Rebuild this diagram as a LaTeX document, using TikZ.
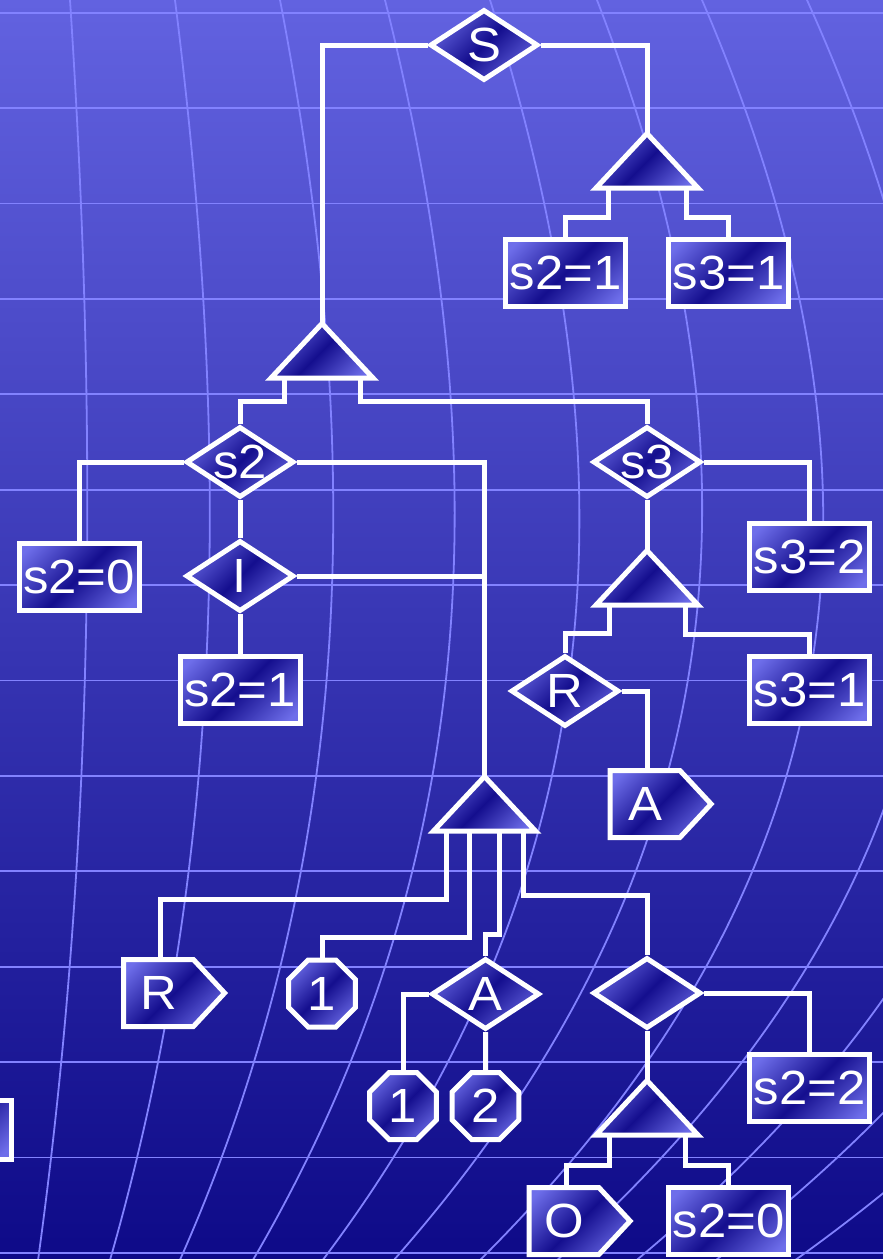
\documentclass[tikz,border=0pt]{standalone}
\usepackage{fontspec}
\setmainfont{Liberation Sans}[FakeStretch=1.06]
\usetikzlibrary{shapes.geometric,shapes.symbols,calc}
\definecolor{bgTop}{RGB}{98,98,224}
\definecolor{bgBot}{RGB}{14,10,136}
\definecolor{gridc}{RGB}{130,130,255}
\definecolor{nL}{RGB}{110,110,234}
\definecolor{nD}{RGB}{20,14,142}
\pgfdeclareverticalshading{nshade}{100bp}{color(0bp)=(nL); color(20bp)=(nL); color(50bp)=(nD); color(80bp)=(nL); color(100bp)=(nL)}
\pgfdeclarelayer{gridlayer}
\pgfdeclarelayer{connlayer}
\pgfsetlayers{gridlayer,connlayer,main}
\tikzset{
  shp/.style={draw=white, line width=5pt, shade, shading=nshade, shading angle=45, text=white, inner sep=0pt, font=\fontsize{48}{52}\selectfont, line join=miter},
  boxn/.style={shp, rectangle, minimum width=120, minimum height=67},
  dian/.style={shp, diamond, aspect=1.5, inner sep=-3pt, minimum width=108, minimum height=71},
  sign/.style={shp, signal, signal to=east, signal pointer angle=94, minimum width=101, minimum height=67},
  octn/.style={shp, regular polygon, regular polygon sides=8, minimum size=72.5},
  conn/.style={draw=white, line width=5pt, line join=miter},
  gridl/.style={draw=gridc, line width=1.8pt},
}
\newcommand{\tri}[3]{%
  \path[shp] (#2,#3+3.5) -- (#2+51,#3+58) -- (#2-51,#3+58) -- cycle;
  \coordinate (#1-a) at (#2,#3+3.5);
  \coordinate (#1-b) at (#2,#3+58);
}
\begin{document}
\begin{tikzpicture}[x=1pt,y=-1pt]
\useasboundingbox (0,0) rectangle (883,1259);
\begin{pgfonlayer}{gridlayer}
\shade[top color=bgTop, bottom color=bgBot] (0,0) rectangle (883,1259);
\foreach \k in {0,...,13} \draw[gridl] (-5,12.7+95.4*\k) -- (890,12.7+95.4*\k);
\foreach \a/\b/\c/\d in {70/87/77/39, 175/209/190/112, 280/332/303/183, 385/453/415/257, 490/577/530/328, 597/700/640/400, 702/820/757/487, 807/932/863/565, 912/1040/965/645, 1017/1150/1070/725, 1122/1260/1175/805}
  \draw[gridl] plot[domain=-0.015:1.275, samples=70, variable=\t, smooth]
   ({\a*(\t-0.44)*(\t-0.86)*(\t-1.253)/(-0.474134) + \b*\t*(\t-0.86)*(\t-1.253)/0.150242 + \c*\t*(\t-0.44)*(\t-1.253)/(-0.141952) + \d*\t*(\t-0.44)*(\t-0.86)/0.400343}, {1000*\t});
\end{pgfonlayer}

% triangles
\tri{T1}{322}{320}
\tri{T2}{647}{130}
\tri{T3}{647}{547}
\tri{T4}{484.5}{773}
\tri{T5}{647}{1077}

% nodes
\node[dian] (S) at (484,45) {S};
\node[boxn] (b1) at (565.5,273) {s2=1};
\node[boxn] (b2) at (728.5,273) {s3=1};
\node[dian] (s2) at (240,462) {s2};
\node[dian] (s3) at (647,462) {s3};
\node[boxn] (b3) at (79,576.5) {s2=0};
\node[dian] (I) at (240,576) {I};
\node[boxn] (b4) at (240,690) {s2=1};
\node[boxn] (b5) at (809.5,557) {s3=2};
\node[dian] (R) at (565,691) {R};
\node[boxn] (b6) at (809.5,690) {s3=1};
\node[sign] (Ap) at (645,804) {A};
\node[sign] (Rp) at (158.5,993) {R};
\node[octn] (o1) at (322,993.5) {1};
\node[dian] (A) at (485.5,994) {A};
\node[dian] (E) at (647,993) {};
\node[boxn] (b7) at (809.5,1088) {s2=2};
\node[octn] (oa) at (403,1106) {1};
\node[octn] (ob) at (485.5,1106) {2};
\node[sign] (Op) at (564,1221) {O};
\node[boxn] (b8) at (728.5,1221) {s2=0};
\node[boxn, minimum height=59, anchor=east] (bx) at (13.5,1130) {};

\begin{pgfonlayer}{connlayer}
\draw[conn] (S.west) -| (T1-a);
\draw[conn] (S.east) -| (T2-a);
\draw[conn] ($(T2-b)+(-39,0)$) |- ($(b1.north)+(0,-20)$) -- (b1.north);
\draw[conn] ($(T2-b)+(39,0)$) |- ($(b2.north)+(0,-20)$) -- (b2.north);
\draw[conn] ($(T1-b)+(-38,0)$) |- ($(s2.north)+(0,-23)$) -- (s2.north);
\draw[conn] ($(T1-b)+(38,0)$) |- ($(s3.north)+(0,-23)$) -- (s3.north);
\draw[conn] (s2.west) -| (b3.north);
\draw[conn] (s2.east) -| (T4-a);
\draw[conn] (s2.south) -- (I.north);
\draw[conn] (I.east) -- (I.east -| T4-a);
\draw[conn] (I.south) -- (b4.north);
\draw[conn] (s3.east) -| (b5.north);
\draw[conn] (s3.south) -- (T3-a);
\draw[conn] ($(T3-b)+(-38,0)$) |- ($(R.north)+(0,-20)$) -- (R.north);
\draw[conn] ($(T3-b)+(38,0)$) |- ($(b6.north)+(0,-20)$) -- (b6.north);
\draw[conn] (R.east) -| ($(Ap.north)+(2,0)$);
\draw[conn] ($(T4-b)+(-38.5,0)$) |- ($(Rp.north)+(1.5,-58)$) -- ($(Rp.north)+(1.5,0)$);
\draw[conn] ($(T4-b)+(-15.5,0)$) |- ($(o1.north)+(0,-20)$) -- (o1.north);
\draw[conn] ($(T4-b)+(14.5,0)$) |- ($(A.north)+(0,-22)$) -- (A.north);
\draw[conn] ($(T4-b)+(38.5,0)$) |- ($(E.north)+(0,-60)$) -- (E.north);
\draw[conn] (A.west) -| (oa.north);
\draw[conn] (A.south) -- (ob.north);
\draw[conn] (E.east) -| (b7.north);
\draw[conn] (E.south) -- (T5-a);
\draw[conn] ($(T5-b)+(-38,0)$) |- ($(Op.north)+(2,-20)$) -- ($(Op.north)+(2,0)$);
\draw[conn] ($(T5-b)+(38,0)$) |- ($(b8.north)+(0,-20)$) -- (b8.north);
\end{pgfonlayer}
\end{tikzpicture}
\end{document}
